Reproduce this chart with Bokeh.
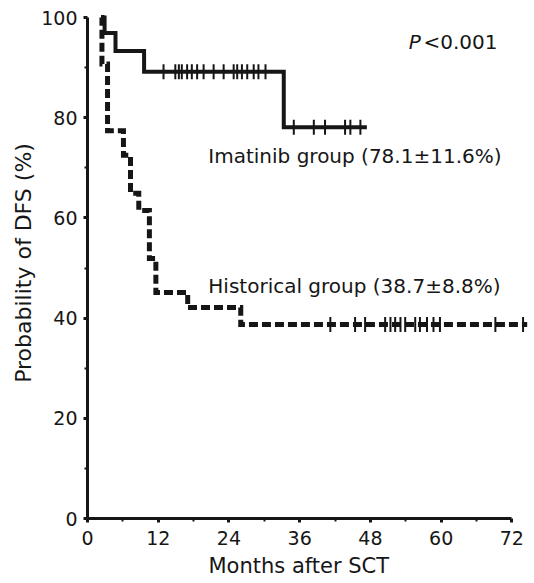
from bokeh.plotting import figure
from bokeh.models import Range1d, FixedTicker, Label, Title
from bokeh.embed import file_html
from bokeh.resources import INLINE

# ---- data ----
imatinib_event_months = [2.3, 2.9, 4.75, 9.6, 33.3]
imatinib_survival = [100, 96.9, 93.3, 89.2, 78.1]
imatinib_end_month = 47.4
imatinib_censor_months = [12.9, 14.9, 15.5, 16.0, 16.9, 17.7, 18.6, 19.7, 21.4, 23.1,
                          24.8, 25.4, 26.2, 27.1, 28.2, 29.0, 30.2,
                          35.0, 38.4, 40.3, 43.7, 44.6, 46.3]

historical_event_months = [2.3, 2.45, 3.4, 6.1, 7.3, 8.7, 10.5, 11.6, 17.0, 26.0]
historical_survival = [100, 90.7, 77.4, 72.5, 64.9, 61.5, 51.9, 45.1, 42.1, 38.7]
historical_end_month = 74.6
historical_censor_months = [41.2, 45.4, 47.1, 50.5, 51.4, 52.2, 53.1, 53.9, 55.6, 56.4,
                            57.6, 58.7, 59.8, 69.2, 73.9]

x_ticks = [0, 12, 24, 36, 48, 60, 72]
y_ticks = [0, 20, 40, 60, 80, 100]

x_title = "Months after SCT"
y_title = "Probability of DFS (%)"
imatinib_label = "Imatinib group (78.1\u00b111.6%)"
historical_label = "Historical group (38.7\u00b18.8%)"
p_label_italic = "P"
p_label_rest = "<0.001"


def step_path(times, surv, end):
    xs, ys = [times[0]], [surv[0]]
    for i in range(1, len(times)):
        xs += [times[i], times[i]]
        ys += [surv[i - 1], surv[i]]
    xs.append(end)
    ys.append(surv[-1])
    return xs, ys


def surv_at(times, surv, t):
    s = surv[0]
    for ti, si in zip(times, surv):
        if ti <= t:
            s = si
    return s


FONT = "DejaVu Sans"
INK = "#161616"

p = figure(width=534, height=583, output_backend="svg", toolbar_location=None,
           x_range=Range1d(0, 75.5), y_range=Range1d(0, 102),
           min_border_left=87, min_border_right=2, min_border_top=7, min_border_bottom=65)
p.outline_line_color = None
p.grid.visible = False
p.background_fill_color = "white"
p.border_fill_color = "white"

# curves
hx, hy = step_path(historical_event_months, historical_survival, historical_end_month)
p.line(hx, hy, line_color=INK, line_width=5, line_dash="9 4", line_join="miter")
ix, iy = step_path(imatinib_event_months, imatinib_survival, imatinib_end_month)
p.line(ix, iy, line_color=INK, line_width=4, line_join="miter")

# censor marks
p.scatter(imatinib_censor_months,
          [surv_at(imatinib_event_months, imatinib_survival, t) for t in imatinib_censor_months],
          marker="dash", angle=1.5708, size=15, line_color=INK, line_width=2)
p.scatter(historical_censor_months,
          [surv_at(historical_event_months, historical_survival, t) for t in historical_censor_months],
          marker="dash", angle=1.5708, size=15, line_color=INK, line_width=2)

# axes
x_minor = [(a + b) / 2 for a, b in zip(x_ticks[:-1], x_ticks[1:])]
y_minor = [(a + b) / 2 for a, b in zip(y_ticks[:-1], y_ticks[1:])]
p.xaxis.ticker = FixedTicker(ticks=x_ticks, minor_ticks=x_minor)
p.yaxis.ticker = FixedTicker(ticks=y_ticks, minor_ticks=y_minor)
p.xaxis.bounds = (x_ticks[0], x_ticks[-1])
p.yaxis.bounds = (y_ticks[0], y_ticks[-1])
for ax in (p.xaxis, p.yaxis):
    ax.axis_line_width = 3
    ax.axis_line_color = INK
    ax.major_tick_line_width = 3
    ax.major_tick_line_color = INK
    ax.major_tick_out = 4
    ax.major_tick_in = 0
    ax.minor_tick_line_width = 2
    ax.minor_tick_line_color = INK
    ax.minor_tick_out = 3
    ax.minor_tick_in = 0
    ax.major_label_text_font = FONT
    ax.major_label_text_font_size = "19px"
    ax.major_label_text_color = INK
    ax.axis_label_text_font = FONT
    ax.axis_label_text_font_style = "normal"
    ax.axis_label_text_color = INK
p.xaxis.major_label_standoff = 8
p.yaxis.major_label_standoff = 6
p.yaxis.axis_label = y_title
p.yaxis.axis_label_text_font_size = "22px"
p.yaxis.axis_label_standoff = 2

# x-axis title centred under the 0-72 axis span (not the whole frame)
p.add_layout(Title(text=x_title, align="left", offset=121, text_font=FONT,
                   text_font_size="21px", text_font_style="normal", text_color=INK,
                   standoff=9), "below")

# annotations
for txt, xx, yy in [(imatinib_label, 20.5, 72.4), (historical_label, 20.5, 46.5)]:
    p.add_layout(Label(x=xx, y=yy, text=txt, text_font=FONT, text_font_size="20px",
                       text_color=INK, text_baseline="middle", text_align="left"))
p.add_layout(Label(x=54.5, y=95.2, text=p_label_italic, text_font=FONT, text_font_size="20px",
                   text_font_style="italic", text_color=INK, text_baseline="middle"))
p.add_layout(Label(x=57.0, y=95.2, text=p_label_rest, text_font=FONT, text_font_size="20px",
                   text_color=INK, text_baseline="middle"))

open("out.html", "w").write(file_html(p, INLINE))
